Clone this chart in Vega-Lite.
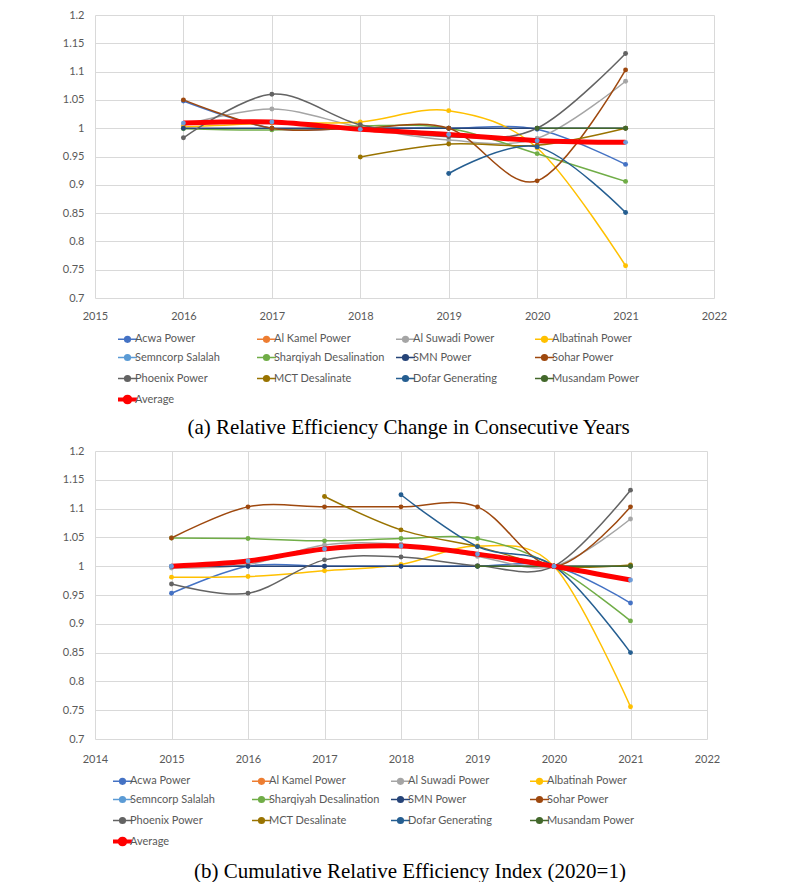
{
  "$schema": "https://vega.github.io/schema/vega-lite/v6.json",
  "background": "white",
  "padding": {"left": 62, "top": 9, "right": 0, "bottom": 0},
  "spacing": 7,
  "config": {
    "font": "Lato",
    "view": {"stroke": null},
    "axis": {
      "labelFont": "Lato",
      "labelFontSize": 11,
      "labelColor": "#595959",
      "grid": true,
      "gridColor": "#D9D9D9",
      "gridWidth": 1,
      "domain": false,
      "ticks": false,
      "title": null
    },
    "axisX": {"labelFlush": false},
    "legend": {
      "orient": "none",
      "direction": "horizontal",
      "title": null,
      "columns": 4,
      "gridAlign": "all",
      "columnPadding": 8,
      "rowPadding": -2,
      "padding": 0,
      "labelFont": "Lato",
      "labelFontSize": 11,
      "labelColor": "#595959",
      "labelOffset": 2,
      "labelLimit": 0,
      "symbolSize": 361,
      "symbolStrokeWidth": 1.5,
      "symbolType": "M-1,0L1,0M0.3,0A0.3,0.3,0,1,1,-0.3,0A0.3,0.3,0,1,1,0.3,0Z"
    },
    "title": {
      "font": "Liberation Serif",
      "fontSize": 21,
      "fontWeight": "normal",
      "color": "#000000",
      "orient": "bottom",
      "anchor": "middle"
    }
  },
  "datasets": {
    "consecutive": [
      {"series": "Acwa Power", "year": 2016, "value": 1.048},
      {"series": "Acwa Power", "year": 2017, "value": 1.0},
      {"series": "Acwa Power", "year": 2018, "value": 1.0},
      {"series": "Acwa Power", "year": 2019, "value": 1.0},
      {"series": "Acwa Power", "year": 2020, "value": 0.998},
      {"series": "Acwa Power", "year": 2021, "value": 0.936},
      {"series": "Al Suwadi Power", "year": 2016, "value": 1.005},
      {"series": "Al Suwadi Power", "year": 2017, "value": 1.034},
      {"series": "Al Suwadi Power", "year": 2018, "value": 1.002},
      {"series": "Al Suwadi Power", "year": 2019, "value": 0.979},
      {"series": "Al Suwadi Power", "year": 2020, "value": 0.982},
      {"series": "Al Suwadi Power", "year": 2021, "value": 1.083},
      {"series": "Albatinah Power", "year": 2016, "value": 1.002},
      {"series": "Albatinah Power", "year": 2017, "value": 1.009},
      {"series": "Albatinah Power", "year": 2018, "value": 1.011},
      {"series": "Albatinah Power", "year": 2019, "value": 1.031},
      {"series": "Albatinah Power", "year": 2020, "value": 0.965},
      {"series": "Albatinah Power", "year": 2021, "value": 0.757},
      {"series": "Sharqiyah Desalination", "year": 2016, "value": 0.999},
      {"series": "Sharqiyah Desalination", "year": 2017, "value": 0.997},
      {"series": "Sharqiyah Desalination", "year": 2018, "value": 1.004},
      {"series": "Sharqiyah Desalination", "year": 2019, "value": 1.0},
      {"series": "Sharqiyah Desalination", "year": 2020, "value": 0.955},
      {"series": "Sharqiyah Desalination", "year": 2021, "value": 0.906},
      {"series": "SMN Power", "year": 2016, "value": 1.0},
      {"series": "SMN Power", "year": 2017, "value": 1.0},
      {"series": "SMN Power", "year": 2018, "value": 1.0},
      {"series": "SMN Power", "year": 2019, "value": 1.0},
      {"series": "SMN Power", "year": 2020, "value": 1.0},
      {"series": "SMN Power", "year": 2021, "value": 1.0},
      {"series": "Sohar Power", "year": 2016, "value": 1.05},
      {"series": "Sohar Power", "year": 2017, "value": 1.0},
      {"series": "Sohar Power", "year": 2018, "value": 1.0},
      {"series": "Sohar Power", "year": 2019, "value": 1.0},
      {"series": "Sohar Power", "year": 2020, "value": 0.907},
      {"series": "Sohar Power", "year": 2021, "value": 1.103},
      {"series": "Phoenix Power", "year": 2016, "value": 0.983},
      {"series": "Phoenix Power", "year": 2017, "value": 1.06},
      {"series": "Phoenix Power", "year": 2018, "value": 1.006},
      {"series": "Phoenix Power", "year": 2019, "value": 0.985},
      {"series": "Phoenix Power", "year": 2020, "value": 1.0},
      {"series": "Phoenix Power", "year": 2021, "value": 1.132},
      {"series": "MCT Desalinate", "year": 2018, "value": 0.949},
      {"series": "MCT Desalinate", "year": 2019, "value": 0.972},
      {"series": "MCT Desalinate", "year": 2020, "value": 0.97},
      {"series": "MCT Desalinate", "year": 2021, "value": 1.0},
      {"series": "Dofar Generating", "year": 2019, "value": 0.92},
      {"series": "Dofar Generating", "year": 2020, "value": 0.967},
      {"series": "Dofar Generating", "year": 2021, "value": 0.851},
      {"series": "Musandam Power", "year": 2020, "value": 1.0},
      {"series": "Musandam Power", "year": 2021, "value": 1.0},
      {"series": "Average", "year": 2016, "value": 1.009},
      {"series": "Average", "year": 2017, "value": 1.011},
      {"series": "Average", "year": 2018, "value": 0.998},
      {"series": "Average", "year": 2019, "value": 0.989},
      {"series": "Average", "year": 2020, "value": 0.978},
      {"series": "Average", "year": 2021, "value": 0.975}
    ],
    "cumulative": [
      {"series": "Acwa Power", "year": 2015, "value": 0.953},
      {"series": "Acwa Power", "year": 2016, "value": 1.0},
      {"series": "Acwa Power", "year": 2017, "value": 1.0},
      {"series": "Acwa Power", "year": 2018, "value": 1.0},
      {"series": "Acwa Power", "year": 2019, "value": 1.0},
      {"series": "Acwa Power", "year": 2020, "value": 1.0},
      {"series": "Acwa Power", "year": 2021, "value": 0.936},
      {"series": "Al Suwadi Power", "year": 2015, "value": 0.997},
      {"series": "Al Suwadi Power", "year": 2016, "value": 1.003},
      {"series": "Al Suwadi Power", "year": 2017, "value": 1.037},
      {"series": "Al Suwadi Power", "year": 2018, "value": 1.038},
      {"series": "Al Suwadi Power", "year": 2019, "value": 1.017},
      {"series": "Al Suwadi Power", "year": 2020, "value": 1.0},
      {"series": "Al Suwadi Power", "year": 2021, "value": 1.082},
      {"series": "Albatinah Power", "year": 2015, "value": 0.981},
      {"series": "Albatinah Power", "year": 2016, "value": 0.982},
      {"series": "Albatinah Power", "year": 2017, "value": 0.992},
      {"series": "Albatinah Power", "year": 2018, "value": 1.003},
      {"series": "Albatinah Power", "year": 2019, "value": 1.035},
      {"series": "Albatinah Power", "year": 2020, "value": 1.0},
      {"series": "Albatinah Power", "year": 2021, "value": 0.756},
      {"series": "Sharqiyah Desalination", "year": 2015, "value": 1.049},
      {"series": "Sharqiyah Desalination", "year": 2016, "value": 1.048},
      {"series": "Sharqiyah Desalination", "year": 2017, "value": 1.044},
      {"series": "Sharqiyah Desalination", "year": 2018, "value": 1.048},
      {"series": "Sharqiyah Desalination", "year": 2019, "value": 1.048},
      {"series": "Sharqiyah Desalination", "year": 2020, "value": 1.0},
      {"series": "Sharqiyah Desalination", "year": 2021, "value": 0.905},
      {"series": "SMN Power", "year": 2015, "value": 1.0},
      {"series": "SMN Power", "year": 2016, "value": 1.0},
      {"series": "SMN Power", "year": 2017, "value": 1.0},
      {"series": "SMN Power", "year": 2018, "value": 1.0},
      {"series": "SMN Power", "year": 2019, "value": 1.0},
      {"series": "SMN Power", "year": 2020, "value": 1.0},
      {"series": "SMN Power", "year": 2021, "value": 1.0},
      {"series": "Sohar Power", "year": 2015, "value": 1.049},
      {"series": "Sohar Power", "year": 2016, "value": 1.103},
      {"series": "Sohar Power", "year": 2017, "value": 1.103},
      {"series": "Sohar Power", "year": 2018, "value": 1.103},
      {"series": "Sohar Power", "year": 2019, "value": 1.103},
      {"series": "Sohar Power", "year": 2020, "value": 1.0},
      {"series": "Sohar Power", "year": 2021, "value": 1.103},
      {"series": "Phoenix Power", "year": 2015, "value": 0.969},
      {"series": "Phoenix Power", "year": 2016, "value": 0.953},
      {"series": "Phoenix Power", "year": 2017, "value": 1.011},
      {"series": "Phoenix Power", "year": 2018, "value": 1.016},
      {"series": "Phoenix Power", "year": 2019, "value": 1.001},
      {"series": "Phoenix Power", "year": 2020, "value": 1.0},
      {"series": "Phoenix Power", "year": 2021, "value": 1.132},
      {"series": "MCT Desalinate", "year": 2017, "value": 1.121},
      {"series": "MCT Desalinate", "year": 2018, "value": 1.063},
      {"series": "MCT Desalinate", "year": 2019, "value": 1.034},
      {"series": "MCT Desalinate", "year": 2020, "value": 1.0},
      {"series": "MCT Desalinate", "year": 2021, "value": 1.002},
      {"series": "Dofar Generating", "year": 2018, "value": 1.124},
      {"series": "Dofar Generating", "year": 2019, "value": 1.034},
      {"series": "Dofar Generating", "year": 2020, "value": 1.0},
      {"series": "Dofar Generating", "year": 2021, "value": 0.85},
      {"series": "Musandam Power", "year": 2019, "value": 1.0},
      {"series": "Musandam Power", "year": 2020, "value": 1.0},
      {"series": "Musandam Power", "year": 2021, "value": 1.0},
      {"series": "Average", "year": 2015, "value": 1.0},
      {"series": "Average", "year": 2016, "value": 1.009},
      {"series": "Average", "year": 2017, "value": 1.03},
      {"series": "Average", "year": 2018, "value": 1.035},
      {"series": "Average", "year": 2019, "value": 1.021},
      {"series": "Average", "year": 2020, "value": 1.0},
      {"series": "Average", "year": 2021, "value": 0.976}
    ]
  },
  "resolve": {
    "scale": {"x": "independent", "y": "independent", "color": "independent"},
    "legend": {"color": "independent"}
  },
  "vconcat": [
    {
      "width": 619,
      "height": 283,
      "data": {"name": "consecutive"},
      "title": {"text": "(a) Relative Efficiency Change in Consecutive Years", "dx": 4, "offset": 6},
      "encoding": {
        "x": {
          "field": "year", "type": "quantitative",
          "scale": {"domain": [2015, 2022], "nice": false, "zero": false},
          "axis": {"values": [2015, 2016, 2017, 2018, 2019, 2020, 2021, 2022], "format": "d", "labelPadding": 12}
        },
        "y": {
          "field": "value", "type": "quantitative",
          "scale": {"domain": [0.7, 1.2], "nice": false, "zero": false},
          "axis": {"values": [0.7, 0.75, 0.8, 0.85, 0.9, 0.95, 1, 1.05, 1.1, 1.15, 1.2], "format": "~g", "labelPadding": 11, "minExtent": 33}
        },
        "color": {
          "field": "series", "type": "nominal",
          "scale": {
            "domain": ["Acwa Power", "Al Kamel Power", "Al Suwadi Power", "Albatinah Power", "Semncorp Salalah", "Sharqiyah Desalination", "SMN Power", "Sohar Power", "Phoenix Power", "MCT Desalinate", "Dofar Generating", "Musandam Power", "Average"],
            "range": ["#4472C4", "#ED7D31", "#A5A5A5", "#FFC000", "#5B9BD5", "#70AD47", "#264478", "#9E480E", "#636363", "#997300", "#255E91", "#43682B", "#FF0000"]
          },
          "legend": {
            "legendX": 27,
            "legendY": 316,
            "encode": {
              "symbols": {
                "update": {
                  "shape": {"value": "M-1,0L1,0M0.3,0A0.3,0.3,0,1,1,-0.3,0A0.3,0.3,0,1,1,0.3,0Z"},
                  "size": {"value": 361},
                  "opacity": {"value": 1},
                  "strokeWidth": {"signal": "datum.value === 'Average' ? 4 : 1.5"},
                  "stroke": {"signal": "({'Acwa Power':'#4472C4','Al Kamel Power':'#ED7D31','Al Suwadi Power':'#A5A5A5','Albatinah Power':'#FFC000','Semncorp Salalah':'#5B9BD5','Sharqiyah Desalination':'#70AD47','SMN Power':'#264478','Sohar Power':'#9E480E','Phoenix Power':'#636363','MCT Desalinate':'#997300','Dofar Generating':'#255E91','Musandam Power':'#43682B','Average':'#FF0000'})[datum.value]"},
                  "fill": {"signal": "datum.value === 'Average' ? '#6E9CD8' : ({'Acwa Power':'#4472C4','Al Kamel Power':'#ED7D31','Al Suwadi Power':'#A5A5A5','Albatinah Power':'#FFC000','Semncorp Salalah':'#5B9BD5','Sharqiyah Desalination':'#70AD47','SMN Power':'#264478','Sohar Power':'#9E480E','Phoenix Power':'#636363','MCT Desalinate':'#997300','Dofar Generating':'#255E91','Musandam Power':'#43682B'})[datum.value]"}
                }
              }
            }
          }
        }
      },
      "layer": [
        {"transform": [{"filter": "datum.series !== 'Average'"}], "mark": {"type": "line", "interpolate": "cardinal", "strokeWidth": 1.5}},
        {"transform": [{"filter": "datum.series !== 'Average'"}], "mark": {"type": "point", "filled": true, "size": 24, "opacity": 1}},
        {"transform": [{"filter": "datum.series === 'Average'"}], "mark": {"type": "line", "interpolate": "cardinal", "strokeWidth": 5}},
        {"transform": [{"filter": "datum.series === 'Average'"}], "mark": {"type": "point", "filled": true, "size": 24, "opacity": 1}, "encoding": {"color": {"value": "#6E9CD8"}}}
      ]
    },
    {
      "width": 612,
      "height": 288,
      "data": {"name": "cumulative"},
      "title": {"text": "(b) Cumulative Relative Efficiency Index (2020=1)", "dx": 9, "offset": 8},
      "encoding": {
        "x": {
          "field": "year", "type": "quantitative",
          "scale": {"domain": [2014, 2022], "nice": false, "zero": false},
          "axis": {"values": [2014, 2015, 2016, 2017, 2018, 2019, 2020, 2021, 2022], "format": "d", "labelPadding": 14}
        },
        "y": {
          "field": "value", "type": "quantitative",
          "scale": {"domain": [0.7, 1.2], "nice": false, "zero": false},
          "axis": {"values": [0.7, 0.75, 0.8, 0.85, 0.9, 0.95, 1, 1.05, 1.1, 1.15, 1.2], "format": "~g", "labelPadding": 11, "minExtent": 33}
        },
        "color": {
          "field": "series", "type": "nominal",
          "scale": {
            "domain": ["Acwa Power", "Al Kamel Power", "Al Suwadi Power", "Albatinah Power", "Semncorp Salalah", "Sharqiyah Desalination", "SMN Power", "Sohar Power", "Phoenix Power", "MCT Desalinate", "Dofar Generating", "Musandam Power", "Average"],
            "range": ["#4472C4", "#ED7D31", "#A5A5A5", "#FFC000", "#5B9BD5", "#70AD47", "#264478", "#9E480E", "#636363", "#997300", "#255E91", "#43682B", "#FF0000"]
          },
          "legend": {
            "legendX": 22,
            "legendY": 322,
            "encode": {
              "symbols": {
                "update": {
                  "shape": {"value": "M-1,0L1,0M0.3,0A0.3,0.3,0,1,1,-0.3,0A0.3,0.3,0,1,1,0.3,0Z"},
                  "size": {"value": 361},
                  "opacity": {"value": 1},
                  "strokeWidth": {"signal": "datum.value === 'Average' ? 4 : 1.5"},
                  "stroke": {"signal": "({'Acwa Power':'#4472C4','Al Kamel Power':'#ED7D31','Al Suwadi Power':'#A5A5A5','Albatinah Power':'#FFC000','Semncorp Salalah':'#5B9BD5','Sharqiyah Desalination':'#70AD47','SMN Power':'#264478','Sohar Power':'#9E480E','Phoenix Power':'#636363','MCT Desalinate':'#997300','Dofar Generating':'#255E91','Musandam Power':'#43682B','Average':'#FF0000'})[datum.value]"},
                  "fill": {"signal": "datum.value === 'Average' ? '#6E9CD8' : ({'Acwa Power':'#4472C4','Al Kamel Power':'#ED7D31','Al Suwadi Power':'#A5A5A5','Albatinah Power':'#FFC000','Semncorp Salalah':'#5B9BD5','Sharqiyah Desalination':'#70AD47','SMN Power':'#264478','Sohar Power':'#9E480E','Phoenix Power':'#636363','MCT Desalinate':'#997300','Dofar Generating':'#255E91','Musandam Power':'#43682B'})[datum.value]"}
                }
              }
            }
          }
        }
      },
      "layer": [
        {"transform": [{"filter": "datum.series !== 'Average'"}], "mark": {"type": "line", "interpolate": "cardinal", "strokeWidth": 1.5}},
        {"transform": [{"filter": "datum.series !== 'Average'"}], "mark": {"type": "point", "filled": true, "size": 24, "opacity": 1}},
        {"transform": [{"filter": "datum.series === 'Average'"}], "mark": {"type": "line", "interpolate": "cardinal", "strokeWidth": 5}},
        {"transform": [{"filter": "datum.series === 'Average'"}], "mark": {"type": "point", "filled": true, "size": 24, "opacity": 1}, "encoding": {"color": {"value": "#6E9CD8"}}}
      ]
    }
  ]
}
